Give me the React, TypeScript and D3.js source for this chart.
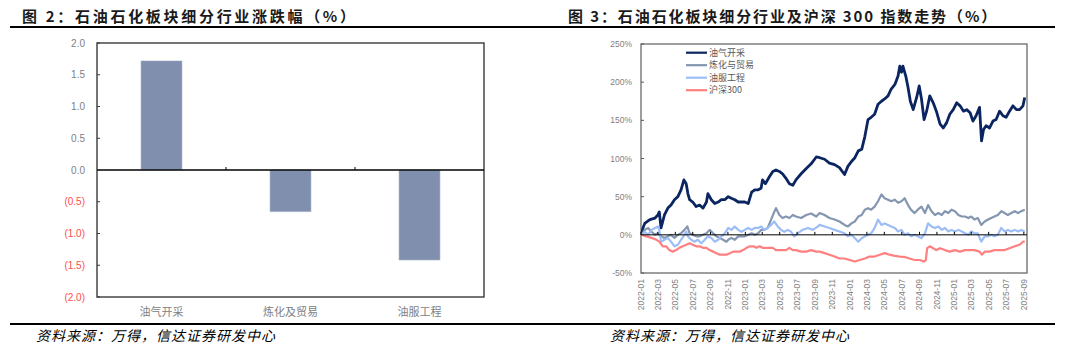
import React from "react";
import * as d3 from "d3";

// ---------- Left chart data ----------
const categories = ["油气开采", "炼化及贸易", "油服工程"];
const changes = [1.72, -0.66, -1.42];
const leftTicks = [2.0, 1.5, 1.0, 0.5, 0.0, -0.5, -1.0, -1.5, -2.0];

// ---------- Right chart data (cumulative %, date) ----------
const seriesNames = ["油气开采", "炼化与贸易", "油服工程", "沪深300"];
const seriesColors = ["#0b2560", "#8496b0", "#9dbdf7", "#ff8080"];
const seriesWidths = [2.8, 2.2, 2.2, 2.2];
const rightTicks = [250, 200, 150, 100, 50, 0, -50];

const oilGas: [string, number][] = [
  ["2022-01-04", 0], ["2022-01-07", 8], ["2022-01-14", 15], ["2022-02-01", 20], ["2022-02-19", 22],
  ["2022-03-01", 26], ["2022-03-06", 30], ["2022-03-12", 9], ["2022-03-24", 26], ["2022-04-05", 35],
  ["2022-04-16", 39], ["2022-04-28", 46], ["2022-05-10", 50], ["2022-05-21", 59], ["2022-05-31", 72],
  ["2022-06-08", 67], ["2022-06-14", 54], ["2022-06-20", 46], ["2022-07-01", 43], ["2022-07-13", 37],
  ["2022-07-25", 39], ["2022-08-06", 35], ["2022-08-18", 43], ["2022-08-23", 54], ["2022-09-04", 46],
  ["2022-09-16", 41], ["2022-09-28", 43], ["2022-10-09", 46], ["2022-10-21", 46], ["2022-11-02", 50],
  ["2022-11-13", 48], ["2022-11-25", 46], ["2022-12-07", 43], ["2022-12-18", 43], ["2022-12-30", 43],
  ["2023-01-11", 41], ["2023-01-23", 56], ["2023-02-03", 59], ["2023-02-15", 59], ["2023-02-25", 61],
  ["2023-03-02", 72], ["2023-03-12", 67], ["2023-03-26", 76], ["2023-04-07", 83], ["2023-04-18", 85],
  ["2023-04-30", 83], ["2023-05-11", 80], ["2023-05-23", 74], ["2023-06-04", 67], ["2023-06-16", 65],
  ["2023-06-27", 72], ["2023-07-15", 80], ["2023-08-02", 87], ["2023-08-19", 93], ["2023-09-06", 102],
  ["2023-09-18", 101], ["2023-10-05", 99], ["2023-10-22", 94], ["2023-11-09", 92], ["2023-11-26", 88],
  ["2023-12-14", 79], ["2023-12-26", 90], ["2024-01-07", 96], ["2024-01-19", 101], ["2024-01-31", 110],
  ["2024-02-12", 112], ["2024-02-23", 129], ["2024-03-05", 151], ["2024-03-16", 154], ["2024-03-28", 158],
  ["2024-04-09", 171], ["2024-04-21", 175], ["2024-05-02", 178], ["2024-05-14", 182], ["2024-05-25", 191],
  ["2024-06-07", 197], ["2024-06-18", 208], ["2024-06-24", 221], ["2024-06-30", 213], ["2024-07-05", 221],
  ["2024-07-15", 208], ["2024-07-23", 193], ["2024-07-31", 175], ["2024-08-10", 164], ["2024-08-22", 180],
  ["2024-08-31", 195], ["2024-09-08", 178], ["2024-09-17", 151], ["2024-09-26", 162], ["2024-10-07", 182],
  ["2024-10-19", 173], ["2024-10-30", 162], ["2024-11-12", 145], ["2024-11-23", 140], ["2024-12-05", 147],
  ["2024-12-16", 158], ["2024-12-28", 164], ["2025-01-09", 173], ["2025-01-21", 169], ["2025-02-02", 162],
  ["2025-02-13", 164], ["2025-02-25", 160], ["2025-03-07", 149], ["2025-03-18", 156], ["2025-03-30", 167],
  ["2025-04-06", 123], ["2025-04-13", 138], ["2025-04-22", 143], ["2025-05-04", 140], ["2025-05-16", 149],
  ["2025-05-27", 151], ["2025-06-08", 162], ["2025-06-20", 156], ["2025-07-01", 154], ["2025-07-13", 162],
  ["2025-07-25", 169], ["2025-08-06", 164], ["2025-08-17", 164], ["2025-08-29", 169], ["2025-09-04", 180],
];

const refining: [string, number][] = [
  ["2022-01-04", 0], ["2022-01-14", 6.5], ["2022-01-26", 9], ["2022-02-07", 4], ["2022-02-19", 0],
  ["2022-03-01", 2], ["2022-03-12", -2], ["2022-03-24", -4], ["2022-04-05", -2], ["2022-04-16", 0],
  ["2022-04-28", -4], ["2022-05-10", 0], ["2022-05-21", 2], ["2022-06-02", 6.5], ["2022-06-12", 11],
  ["2022-06-20", 2], ["2022-07-01", 0], ["2022-07-13", -2], ["2022-07-25", -2], ["2022-08-06", 0],
  ["2022-08-18", 2], ["2022-08-29", 6.5], ["2022-09-10", 2], ["2022-09-22", -2], ["2022-10-03", -4],
  ["2022-10-15", -6.5], ["2022-10-27", -9], ["2022-11-02", -6.5], ["2022-11-13", -4], ["2022-11-25", -6.5],
  ["2022-12-07", -2], ["2022-12-18", -2], ["2022-12-30", -2], ["2023-01-11", 0], ["2023-01-23", 2],
  ["2023-02-03", 0], ["2023-02-15", 2], ["2023-02-25", 6.5], ["2023-03-08", 6.5], ["2023-03-20", 9],
  ["2023-04-01", 20], ["2023-04-12", 30], ["2023-04-18", 35], ["2023-04-30", 26], ["2023-05-11", 22],
  ["2023-05-23", 24], ["2023-06-04", 22], ["2023-06-16", 26], ["2023-06-27", 24], ["2023-07-15", 22],
  ["2023-08-02", 26], ["2023-08-19", 28], ["2023-09-06", 24], ["2023-09-18", 28.5], ["2023-10-05", 26],
  ["2023-10-22", 22], ["2023-11-09", 20], ["2023-11-26", 17.5], ["2023-12-14", 13], ["2023-12-26", 11],
  ["2024-01-07", 15], ["2024-01-19", 17.5], ["2024-01-31", 24], ["2024-02-12", 26], ["2024-02-23", 33],
  ["2024-03-05", 35], ["2024-03-16", 33], ["2024-03-28", 37], ["2024-04-09", 44], ["2024-04-21", 53],
  ["2024-05-02", 48], ["2024-05-14", 46], ["2024-05-25", 44], ["2024-06-07", 46], ["2024-06-18", 42],
  ["2024-06-30", 44], ["2024-07-11", 48], ["2024-07-23", 39], ["2024-08-02", 33], ["2024-08-15", 28.5],
  ["2024-08-26", 33], ["2024-09-08", 37], ["2024-09-20", 28.5], ["2024-10-01", 39], ["2024-10-13", 31],
  ["2024-10-25", 26], ["2024-11-06", 28.5], ["2024-11-18", 26], ["2024-11-29", 31], ["2024-12-11", 28.5],
  ["2024-12-22", 33], ["2025-01-03", 31], ["2025-01-15", 26], ["2025-01-27", 24], ["2025-02-07", 24],
  ["2025-02-19", 22], ["2025-03-01", 24], ["2025-03-12", 20], ["2025-03-24", 22], ["2025-04-05", 13],
  ["2025-04-17", 17.5], ["2025-04-29", 20], ["2025-05-10", 22], ["2025-05-21", 24], ["2025-06-02", 26],
  ["2025-06-14", 31], ["2025-06-26", 28.5], ["2025-07-07", 26], ["2025-07-19", 28.5], ["2025-07-31", 31],
  ["2025-08-12", 28.5], ["2025-08-23", 31], ["2025-09-04", 33],
];

const oilService: [string, number][] = [
  ["2022-01-04", 0], ["2022-01-14", 4], ["2022-01-26", 0], ["2022-02-07", 6.5], ["2022-02-19", 9],
  ["2022-03-01", 11], ["2022-03-06", 6.5], ["2022-03-12", -9], ["2022-03-24", -6.5], ["2022-04-05", -4],
  ["2022-04-16", -9], ["2022-04-28", -15], ["2022-05-10", -13], ["2022-05-21", -6.5], ["2022-06-02", 0],
  ["2022-06-08", 4], ["2022-06-14", -2], ["2022-06-26", -6.5], ["2022-07-07", -9], ["2022-07-19", -6.5],
  ["2022-07-31", -11], ["2022-08-12", -6.5], ["2022-08-23", -2], ["2022-09-04", -4], ["2022-09-16", -9],
  ["2022-09-28", -6.5], ["2022-10-09", -2], ["2022-10-21", 2], ["2022-11-02", 9], ["2022-11-13", 6.5],
  ["2022-11-25", 11], ["2022-12-07", 6.5], ["2022-12-18", 4], ["2022-12-30", 6.5], ["2023-01-11", 9],
  ["2023-01-23", 6.5], ["2023-02-03", 9], ["2023-02-15", 9], ["2023-02-25", 11], ["2023-03-08", 6.5],
  ["2023-03-20", 9], ["2023-04-01", 13], ["2023-04-12", 17.5], ["2023-04-24", 11], ["2023-05-06", 6.5],
  ["2023-05-17", 4], ["2023-05-29", 6.5], ["2023-06-10", 4], ["2023-06-21", -2], ["2023-07-03", 2],
  ["2023-07-20", 6.5], ["2023-08-08", 9], ["2023-08-25", 6.5], ["2023-09-12", 11], ["2023-09-18", 13],
  ["2023-10-05", 11], ["2023-10-22", 9], ["2023-11-09", 6.5], ["2023-11-26", 4.4], ["2023-12-14", 2],
  ["2023-12-26", -2], ["2024-01-07", 0], ["2024-01-19", -4.4], ["2024-01-31", -9], ["2024-02-12", -4.4],
  ["2024-02-23", -2], ["2024-03-05", 0], ["2024-03-16", 2], ["2024-03-28", 9], ["2024-04-09", 20],
  ["2024-04-21", 13], ["2024-05-02", 15], ["2024-05-14", 13], ["2024-05-25", 11], ["2024-06-07", 9],
  ["2024-06-18", 4.4], ["2024-06-30", 6.5], ["2024-07-11", 0], ["2024-07-23", 2], ["2024-08-02", -2],
  ["2024-08-15", 0], ["2024-08-26", -2], ["2024-09-08", -4.4], ["2024-09-20", 2], ["2024-10-01", 15],
  ["2024-10-13", 11], ["2024-10-25", 9], ["2024-11-06", 11], ["2024-11-18", 6.5], ["2024-11-29", 9],
  ["2024-12-11", 4.4], ["2024-12-22", 6.5], ["2025-01-03", 4.4], ["2025-01-15", 6.5], ["2025-01-27", 4.4],
  ["2025-02-07", 2], ["2025-02-19", 0], ["2025-03-01", 4.4], ["2025-03-12", 2], ["2025-03-24", 2],
  ["2025-04-05", -9], ["2025-04-17", -2], ["2025-04-29", -2], ["2025-05-10", 0], ["2025-05-21", -2],
  ["2025-06-02", 0], ["2025-06-14", 9], ["2025-06-26", 4.4], ["2025-07-07", 6.5], ["2025-07-19", 4.4],
  ["2025-07-31", 6.5], ["2025-08-12", 4.4], ["2025-08-23", 6.5], ["2025-09-04", 4.4],
];

const csi300: [string, number][] = [
  ["2022-01-04", 0], ["2022-01-20", -2], ["2022-02-07", -4], ["2022-02-24", -6.5], ["2022-03-06", -9],
  ["2022-03-18", -15], ["2022-03-30", -15], ["2022-04-10", -20], ["2022-04-22", -22], ["2022-05-04", -20],
  ["2022-05-15", -17], ["2022-05-27", -15], ["2022-06-08", -13], ["2022-06-20", -11], ["2022-07-01", -13],
  ["2022-07-13", -15], ["2022-07-25", -15], ["2022-08-06", -17], ["2022-08-18", -17], ["2022-08-29", -20],
  ["2022-09-10", -22], ["2022-09-22", -24], ["2022-10-03", -26], ["2022-10-15", -26], ["2022-10-27", -26],
  ["2022-11-08", -24], ["2022-11-19", -22], ["2022-12-01", -22], ["2022-12-12", -22], ["2022-12-24", -20],
  ["2023-01-05", -17], ["2023-01-17", -15], ["2023-01-29", -15], ["2023-02-09", -17], ["2023-02-20", -15],
  ["2023-03-02", -17], ["2023-03-14", -17], ["2023-03-26", -17], ["2023-04-07", -17], ["2023-04-18", -20],
  ["2023-04-30", -20], ["2023-05-11", -20], ["2023-05-23", -20], ["2023-06-04", -17], ["2023-06-16", -20],
  ["2023-06-27", -20], ["2023-07-15", -22], ["2023-08-02", -22], ["2023-08-19", -20], ["2023-09-06", -22],
  ["2023-09-18", -22], ["2023-10-05", -24], ["2023-10-22", -26], ["2023-11-09", -28.5], ["2023-11-26", -31],
  ["2023-12-14", -31], ["2024-01-01", -33], ["2024-01-19", -35], ["2024-02-05", -33], ["2024-02-23", -31],
  ["2024-03-10", -28.5], ["2024-03-28", -28.5], ["2024-04-15", -26], ["2024-05-02", -24], ["2024-05-19", -26],
  ["2024-06-07", -27.5], ["2024-06-24", -28.5], ["2024-07-11", -29], ["2024-07-28", -31], ["2024-08-15", -33],
  ["2024-09-02", -33], ["2024-09-16", -35], ["2024-09-23", -33], ["2024-09-28", -17.5], ["2024-10-07", -15],
  ["2024-10-19", -17.5], ["2024-10-30", -20], ["2024-11-12", -17.5], ["2024-11-29", -20], ["2024-12-16", -22],
  ["2025-01-03", -20], ["2025-01-21", -22], ["2025-02-07", -20], ["2025-02-25", -20], ["2025-03-12", -20],
  ["2025-03-30", -22], ["2025-04-07", -26], ["2025-04-17", -22], ["2025-05-04", -22], ["2025-05-21", -20],
  ["2025-06-08", -20], ["2025-06-26", -20], ["2025-07-13", -17.5], ["2025-07-31", -15], ["2025-08-17", -13],
  ["2025-08-29", -9], ["2025-09-04", -9],
];

const allSeries = [oilGas, refining, oilService, csi300];

const parse = d3.timeParse("%Y-%m-%d");
const SANS = "'Liberation Sans', Arial, sans-serif";
const CJK = "'Noto Sans CJK SC', 'Noto Sans', sans-serif";

export default function App() {
  // Left chart scales
  const L = { x0: 97, x1: 484, y0: 43, y1: 297 };
  const xBand = d3.scaleBand<string>().domain(categories).range([L.x0, L.x1]);
  const yL = d3.scaleLinear().domain([-2, 2]).range([L.y1, L.y0]);
  const barW = xBand.bandwidth() * 0.32;
  const fmtL = (v: number) => (v < 0 ? `(${d3.format(".1f")(-v)})` : d3.format(".1f")(v));

  // Right chart scales
  const R = { x0: 641, x1: 1027, y0: 44, y1: 273 };
  const xT = d3
    .scaleTime()
    .domain([new Date(2022, 0, 1), new Date(2025, 8, 12)])
    .range([R.x0, R.x1]);
  const yR = d3.scaleLinear().domain([-50, 250]).range([R.y1, R.y0]);
  const monthTicks = d3.timeMonth.every(2)!.range(new Date(2022, 0, 1), new Date(2025, 8, 2));
  const fmtM = d3.timeFormat("%Y-%m");
  const line = d3
    .line<[string, number]>()
    .x((d) => xT(parse(d[0])!))
    .y((d) => yR(d[1]));

  const legendY = [52.7, 65.2, 77.7, 90.2];

  return (
    <svg
      width={1080}
      height={351}
      style={{ position: "absolute", left: 0, top: 0, background: "#fff" }}
      xmlns="http://www.w3.org/2000/svg"
    >
      <rect x={0} y={0} width={1080} height={351} fill="#fff" />
      {/* Titles */}
      <text x={22} y={22} fontFamily={CJK} fontWeight={700} fontSize={15} letterSpacing={2.7} fill="#1a1a1a">
        图 2：石油石化板块细分行业涨跌幅（%）
      </text>
      <text x={568} y={22} fontFamily={CJK} fontWeight={700} fontSize={15} letterSpacing={1.9} fill="#1a1a1a">
        图 3：石油石化板块细分行业及沪深 300 指数走势（%）
      </text>
      <line x1={10} x2={1055} y1={27} y2={27} stroke="#000" strokeWidth={2} />

      {/* ---------- Left chart ---------- */}
      {categories.map((c, i) => {
        const v = changes[i];
        const cx = xBand(c)! + xBand.bandwidth() / 2;
        return (
          <rect
            key={c}
            x={cx - barW / 2}
            y={yL(Math.max(0, v))}
            width={barW}
            height={Math.abs(yL(v) - yL(0))}
            fill="#7f8fad"
            stroke="#dce3ee"
            strokeWidth={0.6}
          />
        );
      })}
      <rect x={L.x0} y={L.y0} width={L.x1 - L.x0} height={L.y1 - L.y0} fill="none" stroke="#3a3a3a" strokeWidth={1.4} />
      <line x1={L.x0} x2={L.x1} y1={yL(0)} y2={yL(0)} stroke="#000" strokeWidth={1.3} />
      {categories.slice(1).map((c) => (
        <line key={c} x1={xBand(c)!} x2={xBand(c)!} y1={yL(0) - 3} y2={yL(0)} stroke="#000" strokeWidth={1} />
      ))}
      {leftTicks.map((t) => (
        <g key={t}>
          <line x1={L.x0} x2={L.x0 + 3} y1={yL(t)} y2={yL(t)} stroke="#3a3a3a" strokeWidth={1} />
          <text
            x={85}
            y={yL(t) + 3.5}
            textAnchor="end"
            fontFamily={SANS}
            fontSize={10}
            fill={t < 0 ? "#ff4d4d" : "#7f7f7f"}
          >
            {fmtL(t)}
          </text>
        </g>
      ))}
      {categories.map((c) => (
        <text
          key={c}
          x={xBand(c)! + xBand.bandwidth() / 2}
          y={316}
          textAnchor="middle"
          fontFamily={CJK}
          fontSize={11}
          fill="#808080"
        >
          {c}
        </text>
      ))}

      {/* ---------- Right chart ---------- */}
      <rect x={R.x0} y={R.y0} width={R.x1 - R.x0} height={R.y1 - R.y0} fill="none" stroke="#6b6b6b" strokeWidth={1.3} />
      {rightTicks.map((t) => (
        <g key={t}>
          <line x1={R.x0} x2={R.x0 + 3} y1={yR(t)} y2={yR(t)} stroke="#595959" strokeWidth={1} />
          <text x={632} y={yR(t) + 3} textAnchor="end" fontFamily={SANS} fontSize={8.5} fill="#7f7f7f">
            {t}%
          </text>
        </g>
      ))}
      {allSeries.map((s, i) => (
        <path
          key={i}
          d={line(s)!}
          fill="none"
          stroke={seriesColors[i]}
          strokeWidth={seriesWidths[i]}
          strokeLinejoin="round"
        />
      ))}
      <line x1={R.x0} x2={R.x1} y1={yR(0)} y2={yR(0)} stroke="#000" strokeWidth={1} />
      {monthTicks.map((d) => (
        <g key={+d}>
          <line x1={xT(d)} x2={xT(d)} y1={yR(0) - 3} y2={yR(0)} stroke="#000" strokeWidth={1} />
          <text
            transform={`translate(${xT(d) + 3},279) rotate(-90)`}
            textAnchor="end"
            fontFamily={SANS}
            fontSize={8.5}
            fill="#7f7f7f"
          >
            {fmtM(d)}
          </text>
        </g>
      ))}
      {seriesNames.map((n, i) => (
        <g key={n}>
          <line x1={686} x2={707} y1={legendY[i]} y2={legendY[i]} stroke={seriesColors[i]} strokeWidth={2.2} />
          <text x={709} y={legendY[i] + 3.2} fontFamily={CJK} fontSize={9} fill="#595959">
            {n}
          </text>
        </g>
      ))}

      {/* ---------- Footers ---------- */}
      <line x1={10} x2={1055} y1={324} y2={324} stroke="#000" strokeWidth={2} />
      <text x={36} y={341} fontFamily={CJK} fontStyle="italic" fontSize={14} letterSpacing={1} fill="#000">
        资料来源：万得，信达证券研发中心
      </text>
      <text x={610} y={341} fontFamily={CJK} fontStyle="italic" fontSize={14} letterSpacing={1} fill="#000">
        资料来源：万得，信达证券研发中心
      </text>
    </svg>
  );
}
